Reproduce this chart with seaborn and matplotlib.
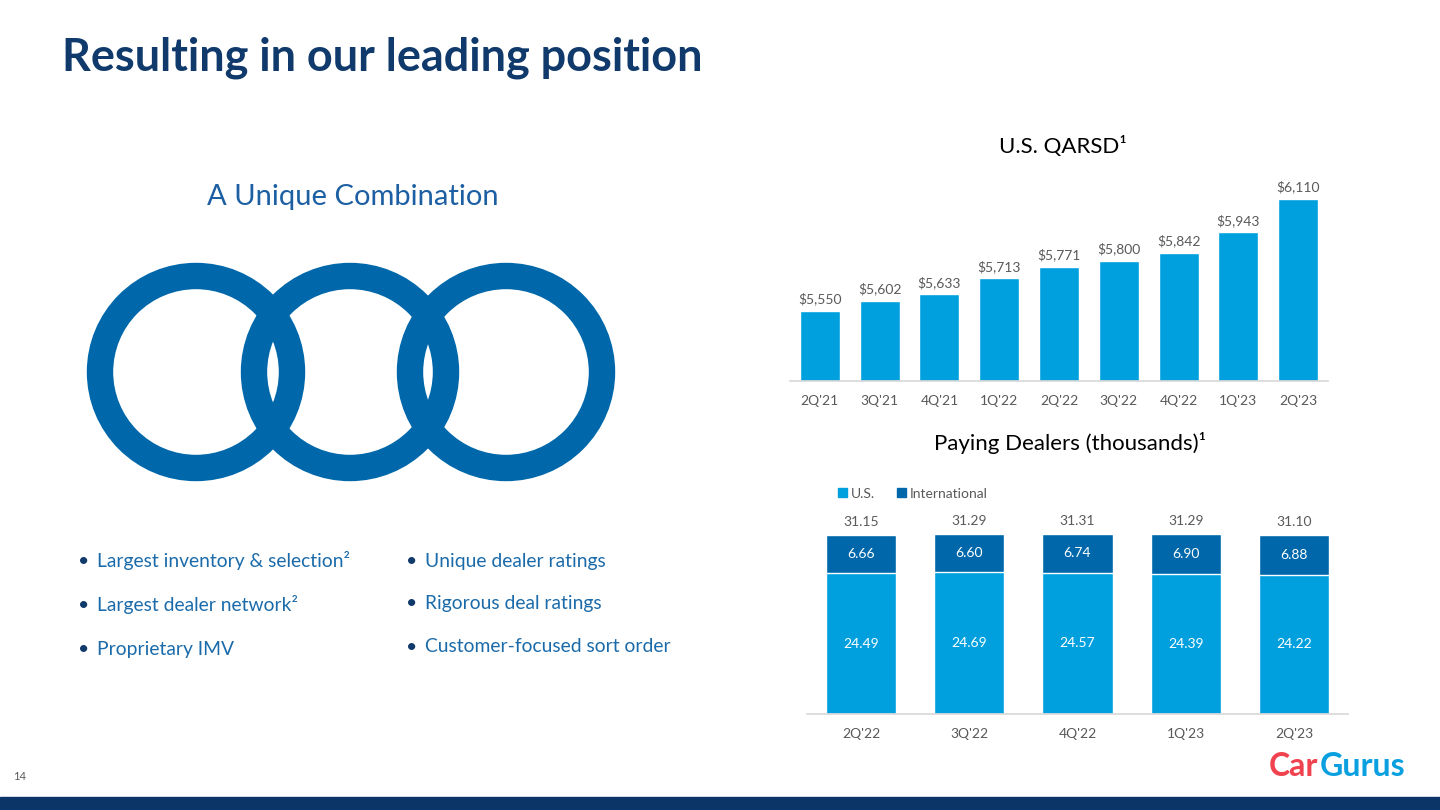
import matplotlib
matplotlib.use("Agg")
import matplotlib.pyplot as plt
from matplotlib.patches import Circle, Rectangle, Patch
import seaborn as sns

# data
quarters_qarsd = ["2Q'21", "3Q'21", "4Q'21", "1Q'22", "2Q'22", "3Q'22", "4Q'22", "1Q'23", "2Q'23"]
qarsd = [5550, 5602, 5633, 5713, 5771, 5800, 5842, 5943, 6110]

quarters_dealers = ["2Q'22", "3Q'22", "4Q'22", "1Q'23", "2Q'23"]
us_dealers = [24.49, 24.69, 24.57, 24.39, 24.22]
intl_dealers = [6.66, 6.60, 6.74, 6.90, 6.88]
total_dealers = [31.15, 31.29, 31.31, 31.29, 31.10]

bullets_left = ["Largest inventory & selection²", "Largest dealer network²", "Proprietary IMV"]
bullets_right = ["Unique dealer ratings", "Rigorous deal ratings", "Customer-focused sort order"]

LIGHT = "#00A0DF"
DARK = "#0068AA"
NAVY = "#0F3A6B"
TXT = "#1B6BAA"
GRAY = "#595959"

sns.set_theme(style="white")
plt.rcParams['font.family'] = ['Lato', 'DejaVu Sans']

W, H = 1440, 810
fig = plt.figure(figsize=(14.4, 8.1), dpi=100)


def fx(x):
    return x / W


def fy(y):
    return 1 - y / H


# title
fig.text(fx(62), fy(58), "Resulting in our leading position", fontsize=32.4, fontweight="bold",
         color=NAVY, va="center", ha="left")
fig.text(fx(353), fy(197), "A Unique Combination", fontsize=21, color="#1D5FA3", ha="center", va="center")

# rings
ax_r = fig.add_axes([0, fy(500), fx(700), (500 - 240) / H])
ax_r.set_xlim(0, 700)
ax_r.set_ylim(500, 240)
ax_r.set_aspect("equal")
ax_r.axis("off")
for cx in [196, 350, 506]:
    ax_r.add_patch(Circle((cx, 372), 96, fill=False, lw=19, ec=DARK))

# bullets
for i, t in enumerate(bullets_left):
    y = [561, 605, 650][i]
    fig.text(fx(84), fy(y), "•", fontsize=14, color=NAVY, ha="center", va="center")
    fig.text(fx(97), fy(y), t, fontsize=13.9, color=TXT, ha="left", va="center")
for i, t in enumerate(bullets_right):
    y = [561, 604, 647][i]
    fig.text(fx(412), fy(y), "•", fontsize=14, color=NAVY, ha="center", va="center")
    fig.text(fx(425), fy(y), t, fontsize=13.9, color=TXT, ha="left", va="center")

# top chart: U.S. QARSD
ax1 = fig.add_axes([fx(790), fy(381), (1328 - 790) / W, (381 - 175) / H])
sns.barplot(x=quarters_qarsd, y=qarsd, color=LIGHT, width=0.67, saturation=1, ax=ax1)
ax1.set_ylim(5200, 6230)
ax1.bar_label(ax1.containers[0], labels=[f"${v:,}" for v in qarsd], padding=4,
              fontsize=10, color=GRAY)
fig.text(fx(1063), fy(146), "U.S. QARSD¹", fontsize=16, color="black", ha="center", va="center")

# bottom chart: paying dealers
ax2 = fig.add_axes([fx(807), fy(714), (1348 - 807) / W, (714 - 475) / H])
sns.barplot(x=quarters_dealers, y=total_dealers, color=DARK, width=0.65, saturation=1, ax=ax2)
sns.barplot(x=quarters_dealers, y=us_dealers, color=LIGHT, width=0.65, saturation=1, ax=ax2)
ax2.set_ylim(0, 41.6)
ax2.bar_label(ax2.containers[0], labels=[f"{v:.2f}" for v in total_dealers], padding=5,
              fontsize=10, color=GRAY)
for i in range(len(quarters_dealers)):
    ax2.text(i, us_dealers[i] + intl_dealers[i] / 2, f"{intl_dealers[i]:.2f}", ha="center",
             va="center", color="white", fontsize=10)
    ax2.text(i, us_dealers[i] / 2, f"{us_dealers[i]:.2f}", ha="center", va="center",
             color="white", fontsize=10)
handles = [Patch(color=LIGHT, label="U.S."), Patch(color=DARK, label="International")]
ax2.legend(handles=handles, loc="upper left", bbox_to_anchor=(0.035, 1.0), ncol=2, frameon=False,
           fontsize=10, handlelength=0.6, handleheight=0.6, handletextpad=0.3, columnspacing=1.6,
           labelcolor=GRAY)
fig.text(fx(1070), fy(443), "Paying Dealers (thousands)¹", fontsize=16, color="black",
         ha="center", va="center")

for ax in (ax1, ax2):
    sns.despine(ax=ax, left=True)
    ax.spines["bottom"].set_color("#D9D9D9")
    ax.set_yticks([])
    ax.tick_params(axis="x", length=0, labelsize=10, labelcolor=GRAY, pad=10)
    ax.set_xlabel("")
    ax.set_ylabel("")
    ax.set_facecolor("none")

# footer
fig.text(fx(20), fy(777), "14", fontsize=8, color=GRAY, ha="center", va="center")
car = fig.text(fx(1269), fy(766), "Car", fontsize=23, fontweight="bold", color="#F0434F",
               ha="left", va="center")
r = fig.canvas.get_renderer()
bb = car.get_window_extent(renderer=r)
fig.text(bb.x1 / W + fx(1), fy(766), "Gurus", fontsize=23, fontweight="bold", color="#0AA0E0",
         ha="left", va="center")
fig.add_artist(Rectangle((0, 0), 1, 13 / H, transform=fig.transFigure, color="#0B3467"))

fig.savefig("out.png", dpi=100)
